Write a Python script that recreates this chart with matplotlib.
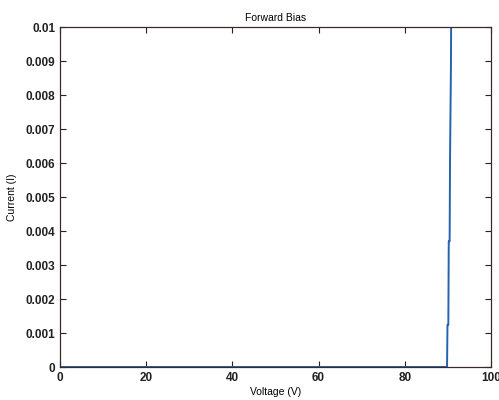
import matplotlib
matplotlib.use("Agg")
import matplotlib.pyplot as plt

# diode forward bias sweep (V, A)
voltage = [0, 20, 40, 60, 80, 89.8, 89.9, 90.1, 90.2, 90.4, 90.5, 90.7, 90.8]
current = [0, 0, 0, 0, 0, 0, 0.00124, 0.00124, 0.0037, 0.0037, 0.0062, 0.0088, 0.0113]

xticks = [0, 20, 40, 60, 80, 100]
yticks = [0, 0.001, 0.002, 0.003, 0.004, 0.005, 0.006, 0.007, 0.008, 0.009, 0.01]
yticklabels = ["0", "0.001", "0.002", "0.003", "0.004", "0.005",
               "0.006", "0.007", "0.008", "0.009", "0.01"]

plt.rcParams['font.family'] = ['Liberation Sans', 'DejaVu Sans']

fig = plt.figure(figsize=(4.99, 4.0), dpi=100)
ax = fig.add_axes([60 / 499, 33 / 400, 431 / 499, 340 / 400])

ax.plot(voltage, current, color='#2563ad', linewidth=1.4)

ax.set_xlim(0, 100)
ax.set_ylim(0, 0.01)
ax.set_xticks(xticks)
ax.set_yticks(yticks)
ax.set_yticklabels(yticklabels)
ax.tick_params(direction='in', length=4, width=0.8, labelsize=8.5,
               top=True, right=True, colors='#222222')
for lbl in ax.get_xticklabels() + ax.get_yticklabels():
    lbl.set_fontweight('bold')
for s in ax.spines.values():
    s.set_color('#3a2a2a')
    s.set_linewidth(0.9)

ax.set_title("Forward Bias", fontsize=7.5, pad=4)
ax.set_xlabel("Voltage (V)", fontsize=7.5, labelpad=2)
ax.set_ylabel("Current (I)", fontsize=7.5, labelpad=6)

fig.savefig("out.png", dpi=100)
